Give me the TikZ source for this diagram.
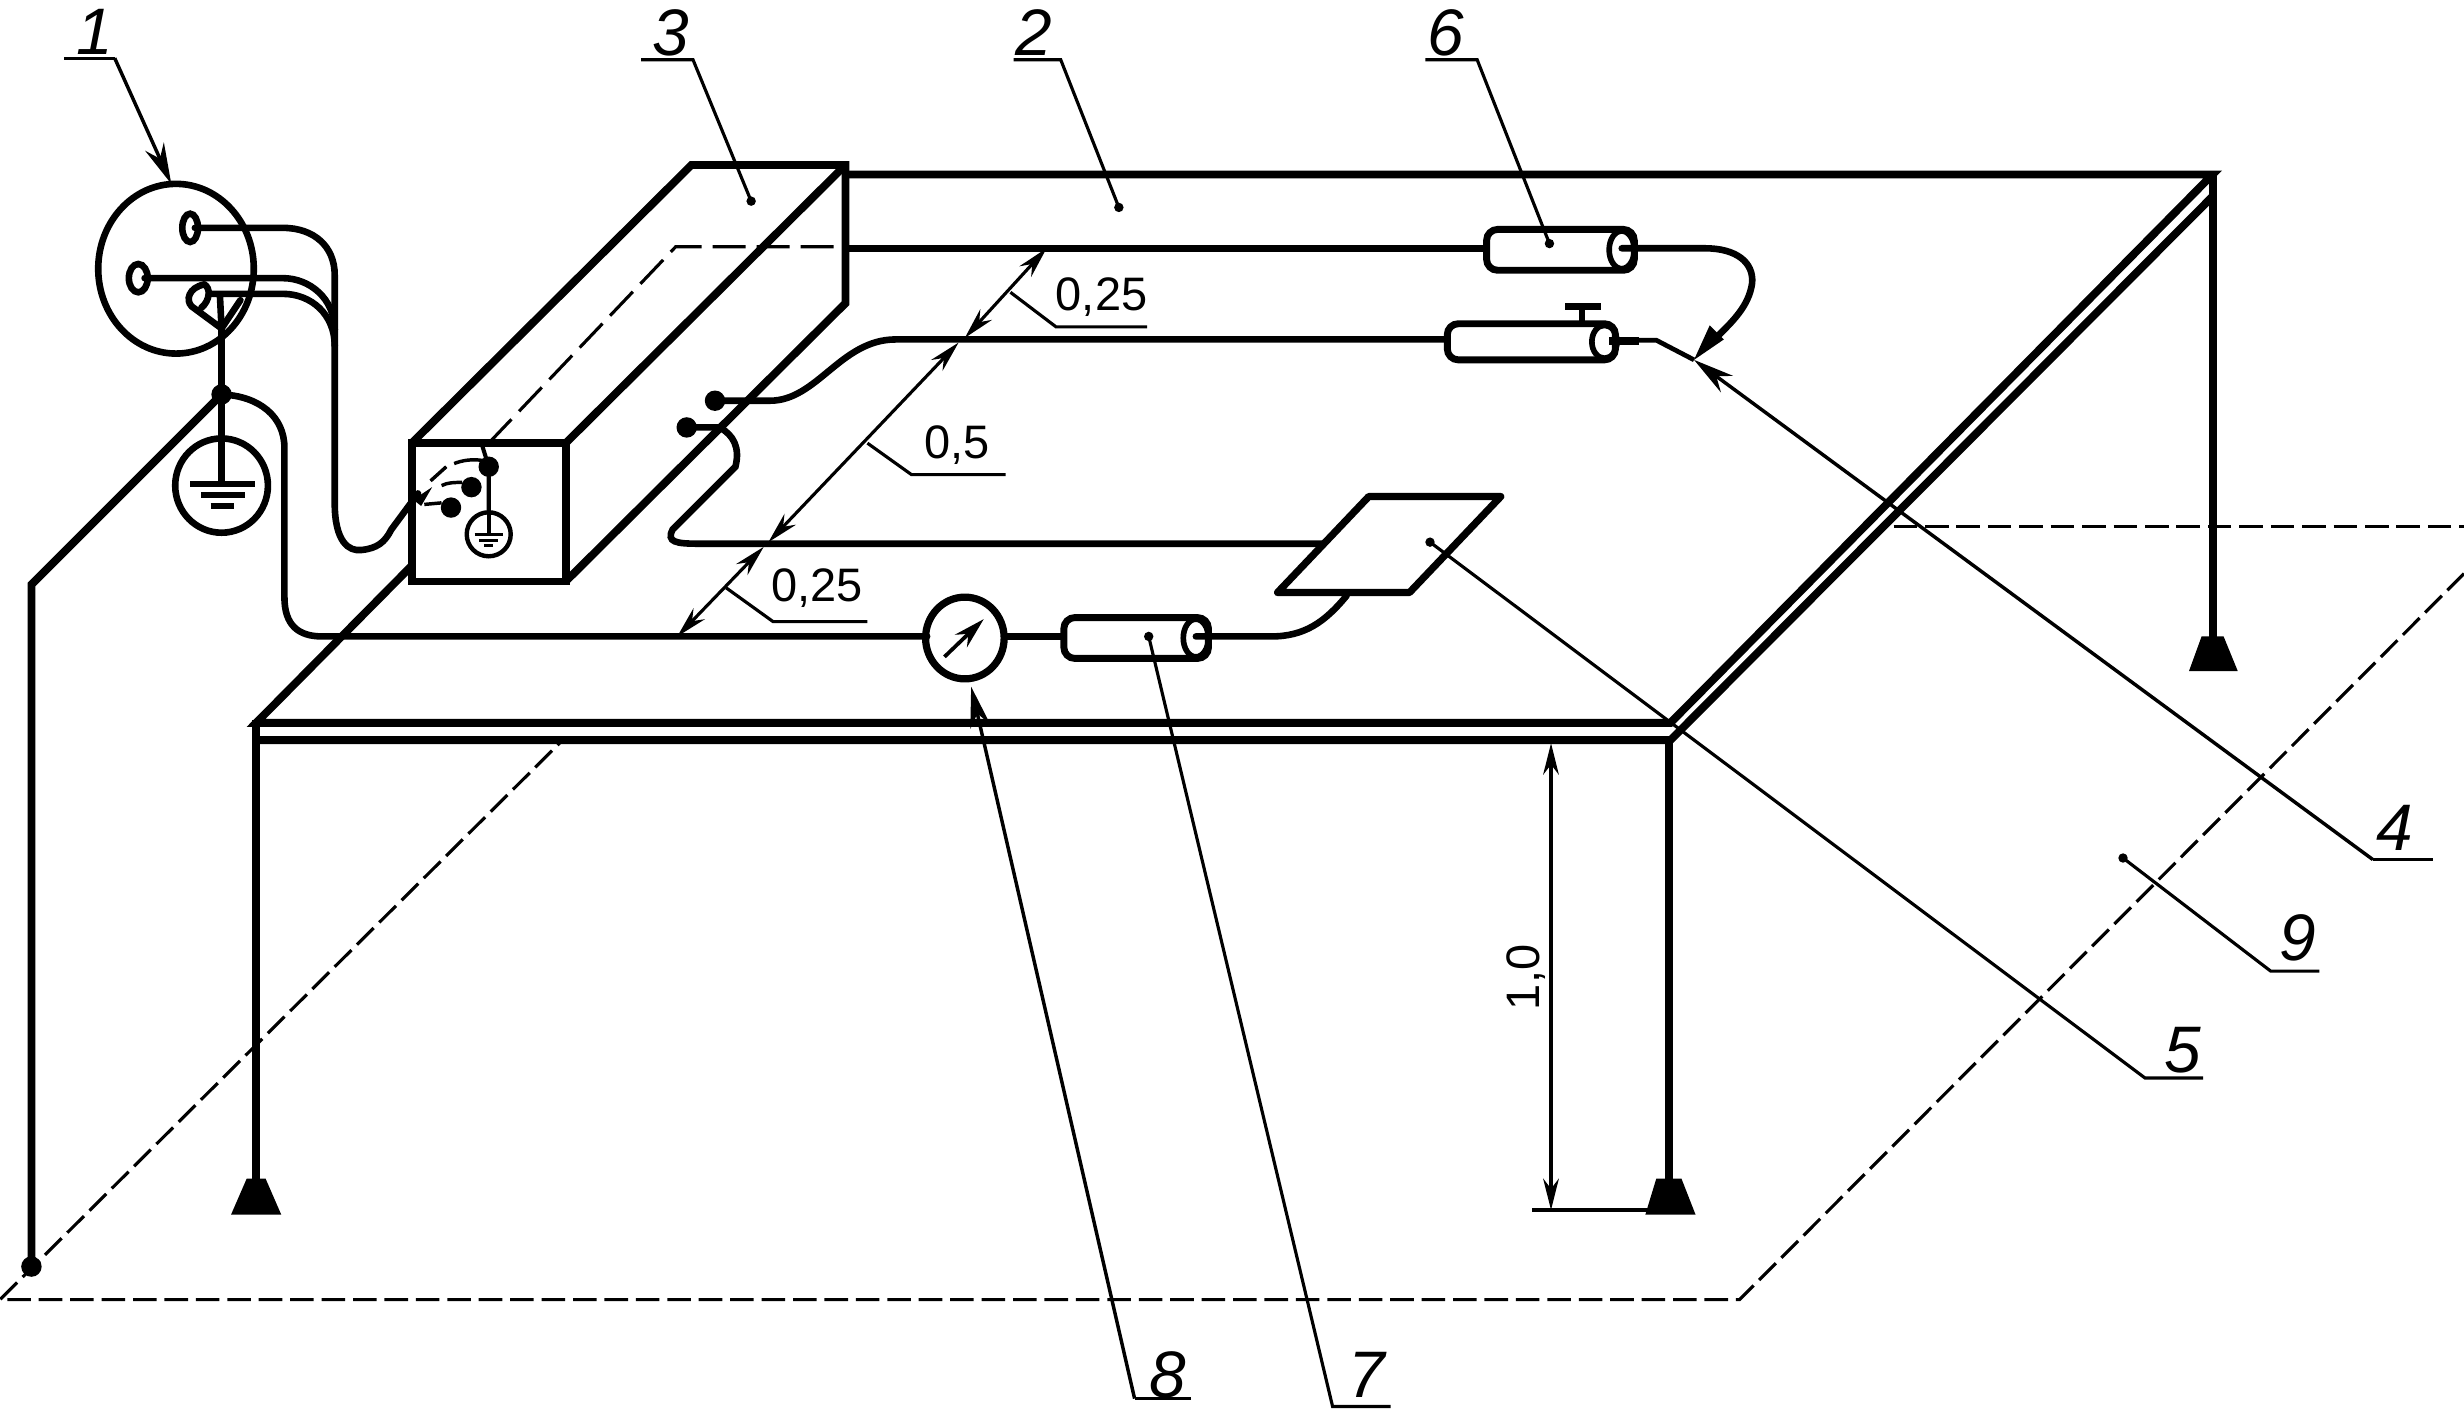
\documentclass[tikz,border=0pt]{standalone}
\usepackage{fontspec}
\setmainfont{Liberation Sans}
\usetikzlibrary{arrows.meta}
\tikzset{
  heavy/.style={line width=5bp,line join=miter},
  wire/.style={line width=4.2bp,line cap=round},
  thin line/.style={line width=2bp},
  floor/.style={line width=2bp,dash pattern=on 15bp off 5bp},
  hidden/.style={line width=2bp,dash pattern=on 21bp off 7bp},
  tiplead/.style={line width=2.2bp,-{Stealth[length=26bp,width=13bp]}},
  dimen/.style={line width=2bp,{Stealth[length=20bp,width=10bp]}-{Stealth[length=20bp,width=10bp]}},
  num/.style={font=\fontsize{42}{42}\selectfont\itshape,inner sep=0pt},
  dimtext/.style={font=\fontsize{30}{30}\selectfont,inner sep=0pt},
  foot/.style={fill=black,draw=none},
  bar/.style={line width=3.6bp},
  cyl/.style={line width=4.4bp,rounded corners=7bp}
}
\newcommand{\cylinderbody}[5]{% x0 x1 y0 y1 xc
  \draw[cyl] (#1,#3) rectangle (#2,#4);
  \draw[line width=3.6bp] (#5,{(#3+#4)/2}) ellipse (8 and {(#4-#3)/2-1});
}
\begin{document}
\begin{tikzpicture}[x=1bp,y=-1bp]
\useasboundingbox (0,0) rectangle (1568,897.27);
% floor
\draw[floor] (1568,365) -- (1107,827) -- (0,827) -- (357,472);
\draw[floor] (1205,335) -- (1568,335);
% table
\draw[heavy] (262,360) -- (163,460) -- (1063,460) -- (1408,111) -- (538,111);
\draw[heavy] (163,471) -- (1063,471) -- (1408,125);
\draw[heavy] (163,458) -- (163,752);
\draw[heavy] (1062,470) -- (1062,752);
\draw[heavy] (1408,111) -- (1408,407);
\draw[foot] (157,750) -- (169,750) -- (179,773) -- (147,773) -- cycle;
\draw[foot] (1054,750) -- (1070,750) -- (1079,773) -- (1047,773) -- cycle;
\draw[foot] (1401,405) -- (1415,405) -- (1424,427) -- (1393,427) -- cycle;
% box 3
\draw[heavy] (262,282) rectangle (360,370);
\draw[heavy] (262,282) -- (440,105) -- (538,105) -- (538,193) -- (360,370);
\draw[heavy] (360,282) -- (538,105);
\draw[hidden] (311,282) -- (430,157) -- (538,157);
% socket 1
\draw[line width=4.2bp] (112,171) ellipse (49.5 and 54);
\draw[wire] (121,145) ellipse (5 and 9);
\draw[wire] (88,177) ellipse (6 and 9);
\draw[wire] (124,145) -- (180,145) .. controls (200,145) and (213,157) .. (213,175) -- (213,320)
  .. controls (213,345) and (222,351) .. (230,350) .. controls (240,349) and (245,345) .. (249,337) -- (266,314);
\draw[wire] (92,177) -- (180,177) .. controls (197,177) and (213,190) .. (213,210);
\draw[wire] (133,187) -- (180,187) .. controls (198,187) and (213,200) .. (213,220);
\draw[wire] (130,181) .. controls (120,183) and (118,191) .. (122,195) -- (141,209) -- (140,189);
\draw[wire] (130,181) .. controls (134,183) and (134,191) .. (128,196);
\draw[wire] (153,191) -- (141,209);
\draw[line width=4.2bp] (141,209) -- (141,308);
\fill (141,251) circle (6.5);
\coordinate (earth) at (20,806);
\draw[heavy] (141,251) -- (20,372) -- (earth);
\fill (earth) circle (6.5);
% earth symbol
\draw[line width=4.2bp] (141,309) ellipse (29.5 and 30);
\draw[bar] (121,308) -- (162,308);
\draw[bar] (128,315) -- (156,315);
\draw[bar] (134,322) -- (149,322);
% wire to gauge
\draw[wire] (141,251) .. controls (165,252) and (181,265) .. (181,285) -- (181,380) .. controls (181,398) and (190,405) .. (205,405) -- (590,405);
% inside box
\fill (311,297) circle (6.5);
\fill (300,310) circle (6.5);
\fill (287,323) circle (6.5);
\draw[line width=2.6bp] (307,284) -- (311,297) -- (311,327);
\draw[line width=2.8bp] (311,340) ellipse (14 and 14);
\draw[line width=2.6bp] (311,327) -- (311,340);
\draw[line width=2.2bp] (302,340) -- (320,340);
\draw[line width=2.2bp] (305,344) -- (317,344);
\draw[line width=2.2bp] (308,347) -- (314,347);
\draw[line width=2.2bp] (289,295) .. controls (294,293) and (300,292) .. (307,293);
\draw[line width=2.2bp] (274,306) -- (284,297);
\draw[line width=2.2bp] (281,309) .. controls (285,307) and (289,307) .. (294,307);
\draw[line width=2.2bp] (270,321) -- (281,320);
\fill (275,310) -- (263,318) -- (268,322) -- cycle;
% wires from the box top
\fill (455,255) circle (6.5);
\fill (437,272) circle (6.5);
\draw[wire] (455,255) -- (490,255) .. controls (520,255) and (535,216) .. (570,216) -- (920,216);
\draw[wire] (437,272) -- (458,272) .. controls (467,277) and (471,285) .. (468,297) -- (428,337) .. controls (424,345) and (430,346) .. (445,346) -- (842,346);
% line 538 to cylinder 6 and probe
\draw[wire] (538,158) -- (945,158);
\cylinderbody{946}{1040}{146}{172}{1032}
\cylinderbody{921}{1028}{206}{229}{1021}
\draw[wire] (1032,158) -- (1085,158) .. controls (1105,158) and (1116,167) .. (1115,180) .. controls (1113,195) and (1102,205) .. (1092,215);
\coordinate (probe) at (1078,229);
\fill (1078,229) -- (1088,207) -- (1097,216) -- cycle;
\draw[line width=5.5bp] (1024,217) -- (1043,217);
\draw[line width=3bp] (1043,216.5) -- (1054,216.5) -- (probe);
\draw[line width=3.8bp] (1007,205) -- (1007,195);
\draw[line width=5bp] (996,195) -- (1019,195);
% gauge
\coordinate (gaugeC) at (614,406);
\draw[line width=4.6bp] (gaugeC) ellipse (25 and 26);
\draw[line width=2.4bp,-{Stealth[length=20bp,width=11bp]}] (601,418) -- (626,394);
\draw[wire] (639,405) -- (676,405);
\cylinderbody{677}{769}{393}{419}{761}
\draw[wire] (761,405) -- (809,405) .. controls (830,405) and (843,396) .. (857,379);
% plate 5
\draw[line width=4.6bp,line join=round] (871,316) -- (955,316) -- (897,377) -- (813,377) -- cycle;
% dimensions on the diagonal
\draw[dimen] (431,405) -- (486,348);
\draw[dimen] (489,345) -- (610,218);
\draw[dimen] (614,215) -- (666,158);
% dimension labels
\node[dimtext] (dA) at (701,189) {0,25};
\node[dimtext] (dB) at (609,283) {0,5};
\node[dimtext] (dC) at (520,374.5) {0,25};
\draw[thin line] (643,186) -- (672,208) -- (730,208);
\draw[thin line] (552,282) -- (580,302) -- (640,302);
\draw[thin line] (462,374) -- (492,395.6) -- (552,395.6);
% height
\draw[dimen] (987,473) -- (987,770);
\draw[thin line] (975,770) -- (1062,770);
\node[dimtext,rotate=90] (dH) at (971,622) {1,0};
% leaders and numbers
\node[num] (n1) at (60,20) {1};
\node[num] (n2) at (658,21) {2};
\node[num] (n3) at (427,21) {3};
\node[num] (n4) at (1524,527) {4};
\node[num] (n5) at (1389,668) {5};
\node[num] (n6) at (920,21) {6};
\node[num] (n7) at (870,875) {7};
\node[num] (n8) at (743,875) {8};
\node[num] (n9) at (1462,597) {9};
\coordinate (d1) at (109,117);
\coordinate (d2) at (712,132);
\coordinate (d3) at (478,128);
\coordinate (d5) at (910,345);
\coordinate (d6) at (986,155);
\coordinate (d7) at (731,405);
\coordinate (d8) at (618,437);
\coordinate (d9) at (1351,546);
\draw[thin line] (41,37) -- (73,37);
\draw[tiplead] (73,37) -- (d1);
\draw[thin line] (645,38) -- (675,38) -- (d2);
\draw[thin line] (408,38) -- (441,38) -- (d3);
\draw[thin line] (1548,547) -- (1510,547);
\draw[tiplead] (1510,547) -- (probe);
\draw[thin line] (1402,686) -- (1365,686) -- (d5);
\draw[thin line] (907,38) -- (940,38) -- (d6);
\draw[thin line] (885,895) -- (848,895) -- (d7);
\draw[thin line] (758,890) -- (722,890);
\draw[tiplead] (722,890) -- (d8);
\draw[thin line] (1476,618) -- (1445,618) -- (d9);
\foreach \p in {d2,d3,d5,d6,d7,d9} \fill (\p) circle (3);
\end{tikzpicture}
\end{document}
